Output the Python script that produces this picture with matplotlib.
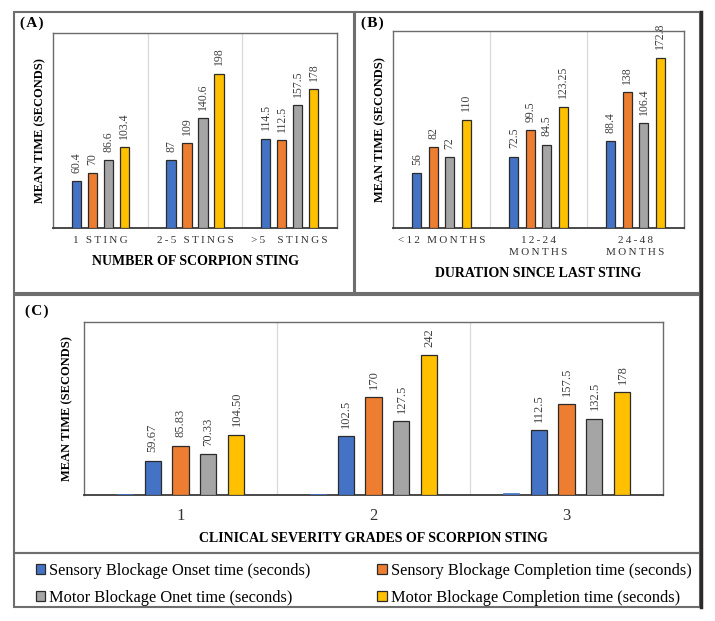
import matplotlib
matplotlib.use("Agg")
import matplotlib.pyplot as plt
from matplotlib.patches import Rectangle
from matplotlib.lines import Line2D
import numpy as np

# ---------------- data ----------------
series_names = ["Sensory Blockage Onset time (seconds)",
                "Sensory Blockage Completion time (seconds)",
                "Motor Blockage Onet time (seconds)",
                "Motor Blockage Completion time (seconds)"]
colors = ["#4472C4", "#ED7D31", "#A5A5A5", "#FFC000"]

a_categories = ["1 STING", "2-5 STINGS", ">5  STINGS"]
a_sens_onset = [60.4, 87, 114.5]
a_sens_compl = [70, 109, 112.5]
a_motor_onset = [86.6, 140.6, 157.5]
a_motor_compl = [103.4, 198, 178]
a_labels = [["60.4", "87", "114.5"], ["70", "109", "112.5"],
            ["86.6", "140.6", "157.5"], ["103.4", "198", "178"]]

b_categories = ["<12 MONTHS", "12-24\nMONTHS", "24-48\nMONTHS"]
b_sens_onset = [56, 72.5, 88.4]
b_sens_compl = [82, 99.5, 138]
b_motor_onset = [72, 84.5, 106.4]
b_motor_compl = [110, 123.25, 172.8]
b_labels = [["56", "72.5", "88.4"], ["82", "99.5", "138"],
            ["72", "84.5", "106.4"], ["110", "123.25", "172.8"]]

c_categories = ["1", "2", "3"]
c_grade = [1, 2, 3]
c_sens_onset = [59.67, 102.5, 112.5]
c_sens_compl = [85.83, 170, 157.5]
c_motor_onset = [70.33, 127.5, 132.5]
c_motor_compl = [104.50, 242, 178]
c_labels = [["59.67", "102.5", "112.5"], ["85.83", "170", "157.5"],
            ["70.33", "127.5", "132.5"], ["104.50", "242", "178"]]

# ---------------- figure ----------------
W, H = 715, 621
fig = plt.figure(figsize=(W / 100, H / 100), dpi=100)
fig.patch.set_facecolor("white")

SERIF = ["Liberation Serif", "DejaVu Serif"]


def rect(x0, y0, x1, y1):
    return [x0 / W, 1 - y1 / H, (x1 - x0) / W, (y1 - y0) / H]


def spaced(s, sep="\u2009"):
    return "\n".join(sep.join(list(line)) for line in s.split("\n"))


def style_axes(ax, ymax, ncat):
    ax.set_xlim(-0.5, ncat - 0.5)
    ax.set_ylim(0, ymax)
    ax.set_yticks([])
    ax.tick_params(axis="x", length=0)
    for side in ["left", "top", "right"]:
        ax.spines[side].set_color("#6b6b6b")
        ax.spines[side].set_linewidth(1.0)
    ax.spines["bottom"].set_color("#3a3a3a")
    ax.spines["bottom"].set_linewidth(1.3)
    for b in np.arange(0.5, ncat - 0.5, 1.0):
        ax.axvline(b, color="#D9D9D9", lw=0.9, zorder=0)


def draw_bars(ax, series, labels, width, step, nslots, first_slot, fs):
    x = np.arange(len(series[0]))
    handles = []
    for k, vals in enumerate(series):
        slot = first_slot + k
        off = (slot - (nslots - 1) / 2) * step
        bars = ax.bar(x + off, vals, width, color=colors[k], edgecolor="#2b2b2b",
                      linewidth=0.9, zorder=3)
        handles.append(bars)
        for xi, v, lab in zip(x + off, vals, labels[k]):
            ax.annotate(lab, (xi, v), xytext=(0, 6), textcoords="offset points",
                        rotation=90, ha="center", va="bottom", fontsize=fs,
                        family=SERIF, color="#404040")
    return handles


# ---------------- panel A ----------------
axA = fig.add_axes(rect(53, 33, 337, 228))
style_axes(axA, 250, 3)
draw_bars(axA, [a_sens_onset, a_sens_compl, a_motor_onset, a_motor_compl],
          a_labels, 0.098, 0.169, 4, 0, 8.5)
axA.set_xticks(range(3))
axA.set_xticklabels([spaced(c) for c in a_categories], family=SERIF, fontsize=8,
                    color="#333333")
axA.tick_params(axis="x", pad=6)
axA.set_xlabel("NUMBER OF SCORPION STING", family=SERIF, fontweight="bold",
               fontsize=10, labelpad=7)
axA.set_ylabel("MEAN TIME (SECONDS)", family=SERIF, fontweight="bold",
               fontsize=9, labelpad=5)

# ---------------- panel B ----------------
axB = fig.add_axes(rect(393, 31, 684, 228))
style_axes(axB, 200, 3)
draw_bars(axB, [b_sens_onset, b_sens_compl, b_motor_onset, b_motor_compl],
          b_labels, 0.093, 0.17, 4, 0, 8.5)
axB.set_xticks(range(3))
axB.set_xticklabels([spaced(c) for c in b_categories], family=SERIF, fontsize=8,
                    color="#333333", linespacing=1.45)
axB.tick_params(axis="x", pad=6)
for t in axB.get_xticklabels():
    t.set_verticalalignment("top")
axB.set_xlabel("DURATION SINCE LAST STING", family=SERIF, fontweight="bold",
               fontsize=10, labelpad=7)
axB.set_ylabel("MEAN TIME (SECONDS)", family=SERIF, fontweight="bold",
               fontsize=9, labelpad=5)

# ---------------- panel C ----------------
axC = fig.add_axes(rect(84, 322, 663, 495))
style_axes(axC, 300, 3)
xC = np.arange(3)
axC.bar(xC + (0 - 2) * 0.145, c_grade, 0.083, color=colors[0], edgecolor=colors[0],
        linewidth=0.5, zorder=3)
hC = draw_bars(axC, [c_sens_onset, c_sens_compl, c_motor_onset, c_motor_compl],
               c_labels, 0.083, 0.145, 5, 1, 9)
axC.set_xticks(range(3))
axC.set_xticklabels(c_categories, family=SERIF, fontsize=12, color="#333333")
axC.tick_params(axis="x", pad=9)
axC.set_xlabel("CLINICAL SEVERITY GRADES OF SCORPION STING", family=SERIF,
               fontweight="bold", fontsize=10, labelpad=6)
axC.set_ylabel("MEAN TIME (SECONDS)", family=SERIF, fontweight="bold",
               fontsize=9, labelpad=8)

# ---------------- legend ----------------
order = [0, 2, 1, 3]
leg = fig.legend([hC[i] for i in order], [series_names[i] for i in order],
                 ncol=2, loc="upper left", bbox_to_anchor=(29 / W, 1 - 556 / H),
                 frameon=False, prop={"family": SERIF, "size": 11.8},
                 handlelength=0.6, handleheight=0.6, handletextpad=0.25,
                 columnspacing=4.05, labelspacing=0.68, borderaxespad=0)

# ---------------- panel frames ----------------
frame_c = "#6e6e6e"
for (x0, y0, x1, y1) in [(14, 12, 354, 293), (355, 12, 700, 293),
                         (14, 295, 700, 553), (14, 553, 700, 607)]:
    fig.add_artist(Rectangle((x0 / W, 1 - y1 / H), (x1 - x0) / W, (y1 - y0) / H,
                             transform=fig.transFigure, fill=False,
                             edgecolor=frame_c, linewidth=1.5))
fig.add_artist(Line2D([701 / W, 701 / W], [1 - 12 / H, 1 - 607 / H],
                      transform=fig.transFigure, color="#2a2a2a", linewidth=2.5))

fig.text(20 / W, 1 - 23 / H, spaced("(A)", "\u200a"), family=SERIF, fontweight="bold",
         fontsize=11, va="center", ha="left")
fig.text(361 / W, 1 - 23 / H, spaced("(B)", "\u200a"), family=SERIF, fontweight="bold",
         fontsize=11, va="center", ha="left")
fig.text(25 / W, 1 - 311 / H, spaced("(C)", "\u200a"), family=SERIF, fontweight="bold",
         fontsize=11, va="center", ha="left")

fig.savefig("out.png", dpi=100, facecolor="white")
